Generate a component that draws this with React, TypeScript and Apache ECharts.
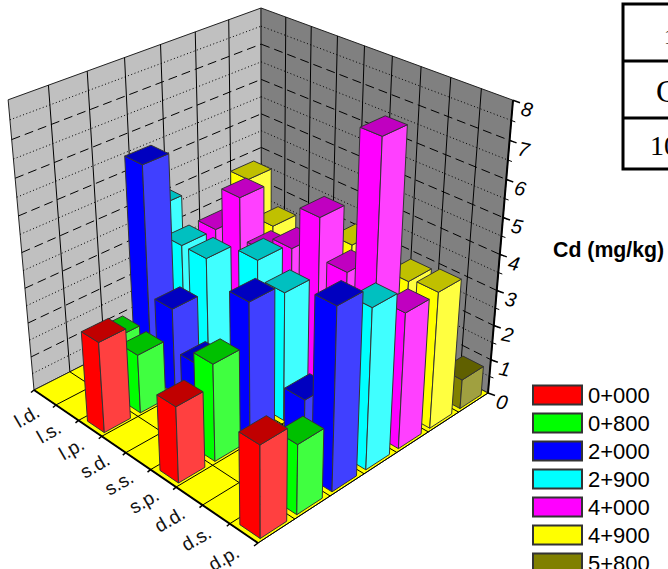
import React, { useEffect, useRef } from "react";
import * as echarts from "echarts";

const categories = ["l.d.", "l.s.", "l.p.", "s.d.", "s.s.", "s.p.", "d.d.", "d.s.", "d.p."];
const seriesNames = ["0+000", "0+800", "2+000", "2+900", "4+000", "4+900", "5+800"];
const zTicks = [0, 1, 2, 3, 4, 5, 6, 7, 8];
const v000: (number | null)[] = [null, null, 2.6, null, null, 2.15, null, null, 2.55];
const v800: (number | null)[] = [null, 1.75, 1.7, null, null, 2.75, null, null, 1.95];
const v2000: (number | null)[] = [null, 6.1, 2.5, 1.3, null, 3.9, null, 2.1, 5.0];
const v2900: (number | null)[] = [4.2, 3.45, 3.45, null, 4.15, 3.65, null, null, 4.45];
const v4000: (number | null)[] = [null, 3.45, 4.7, 3.55, 4.0, 5.2, 4.1, 7.9, 3.8];
const v4900: (number | null)[] = [null, 4.45, 3.45, null, null, 4.0, null, 3.75, 3.85];
const v5800: (number | null)[] = [null, null, null, null, null, null, null, null, 0.85];
const allValues = [v000, v800, v2000, v2900, v4000, v4900, v5800];
const baseColors = ["#ff0000", "#00ff00", "#0000ff", "#00ffff", "#ff00ff", "#ffff00", "#808000"];
const topColors = ["#c00000", "#00c000", "#0000c0", "#00c0c0", "#c000c0", "#c0c000", "#606000"];
const sideColors = ["#ff4040", "#40ff40", "#4040ff", "#40ffff", "#ff40ff", "#ffff40", "#a0a040"];
const tableRows = [
  { text: "1", size: 22, y: 36, x: 664 },
  { text: "C", size: 32, y: 91, x: 656 },
  { text: "10", size: 28, y: 145, x: 650 },
];

// projection: floor corners + vanishing point of the vertical direction
const L = [34, 390], F = [258, 543], R = [488, 393], B = [261.5, 274.5];
const Vz = [266, 2992];
const TOP_Y = 8;
const nU = categories.length, nV = seriesNames.length, zMax = 8;
const BAR_U0 = 0.2, BAR_U1 = 0.92, BAR_V0 = 0.12, BAR_V1 = 0.84;

const dx1 = F[0] - R[0], dx2 = B[0] - R[0], sx = L[0] - F[0] + R[0] - B[0];
const dy1 = F[1] - R[1], dy2 = B[1] - R[1], sy = L[1] - F[1] + R[1] - B[1];
const den = dx1 * dy2 - dx2 * dy1;
const hg = (sx * dy2 - dx2 * sy) / den, hh = (dx1 * sy - sx * dy1) / den;
const ha = F[0] - L[0] + hg * F[0], hb = B[0] - L[0] + hh * B[0], hc = L[0];
const hd = F[1] - L[1] + hg * F[1], he = B[1] - L[1] + hh * B[1], hf = L[1];
const wB = hh + 1;
const k = (TOP_Y * wB - B[1] * wB) / (zMax * (Vz[1] - TOP_Y));

function project(u: number, v: number, z: number): number[] {
  const s = u / nU, t = v / nV;
  const w = hg * s + hh * t + 1 + z * k;
  return [
    (ha * s + hb * t + hc + z * k * Vz[0]) / w,
    (hd * s + he * t + hf + z * k * Vz[1]) / w,
  ];
}

const line = (a: number[], b: number[], style: any) => ({
  type: "line",
  shape: { x1: a[0], y1: a[1], x2: b[0], y2: b[1] },
  style: { stroke: "#000", lineWidth: 1, ...style },
});
const poly = (points: number[][], fill: string, stroke = "#333", lineWidth = 1) => ({
  type: "polygon",
  shape: { points },
  style: { fill, stroke, lineWidth },
});

function renderFrame() {
  const children: any[] = [];
  children.push(poly([project(0, 0, 0), project(0, nV, 0), project(0, nV, zMax), project(0, 0, zMax)], "#c0c0c0", "#222", 1));
  children.push(poly([project(0, nV, 0), project(nU, nV, 0), project(nU, nV, zMax), project(0, nV, zMax)], "#808080", "#222", 1));
  children.push(poly([project(0, 0, 0), project(nU, 0, 0), project(nU, nV, 0), project(0, nV, 0)], "#ffff00", "#222", 1));
  for (let i = 1; i < nV; i++) {
    children.push(line(project(0, i, 0), project(0, i, zMax), {}));
    children.push(line(project(0, i, 0), project(nU, i, 0), {}));
  }
  for (let i = 1; i < nU; i++) {
    children.push(line(project(i, nV, 0), project(i, nV, zMax), {}));
    children.push(line(project(i, 0, 0), project(i, nV, 0), {}));
  }
  for (let z = 0.5; z < zMax; z += 0.5) {
    const dash = Number.isInteger(z) ? [9, 5] : [1, 2.5];
    children.push(line(project(0, 0, z), project(0, nV, z), { lineDash: dash }));
    children.push(line(project(0, nV, z), project(nU, nV, z), { lineDash: dash }));
    const p = project(nU, nV, z);
    children.push(line(p, [p[0] + 4, p[1] + 1.5], {}));
  }
  children.push(line(project(0, 0, 0), project(nU, 0, 0), { lineWidth: 2 }));
  children.push(line(project(nU, 0, 0), project(nU, nV, 0), { lineWidth: 1 }));
  children.push(line(project(nU, nV, 0), project(nU, nV, zMax), { lineWidth: 2 }));
  zTicks.forEach((z) => {
    const p = project(nU, nV, z);
    children.push(line(p, [p[0] + 7, p[1] + 2.5], { lineWidth: 1.5 }));
    children.push({
      type: "text",
      x: p[0] + 14,
      y: p[1] + 9,
      rotation: (-12 * Math.PI) / 180,
      style: { text: String(z), font: "italic 20px 'Liberation Sans'", fill: "#000", align: "center", verticalAlign: "middle" },
    });
  });
  categories.forEach((c, i) => {
    const t = project(i, 0, 0);
    children.push(line(t, [t[0] - 3, t[1] + 2.5], { lineWidth: 1.5 }));
    const m = project(i + 0.5, 0, 0);
    children.push({
      type: "text",
      x: m[0] - 18 - i * 0.25,
      y: m[1] + 19 + i * 0.75,
      rotation: (30 * Math.PI) / 180,
      style: { text: c, fontFamily: "Liberation Sans", fontSize: 19, fill: "#111", align: "center", verticalAlign: "middle" },
    });
  });
  const e = project(nU, 0, 0);
  children.push(line(e, [e[0] - 4, e[1] + 3], { lineWidth: 1.5 }));
  return { type: "group", children };
}

function makeBar(seriesIndex: number) {
  return (_params: any, api: any) => {
    const cat = api.value(0) as number;
    const val = api.value(1) as number;
    const u0 = cat + BAR_U0, u1 = cat + BAR_U1;
    const v0 = seriesIndex + BAR_V0, v1 = seriesIndex + BAR_V1;
    const corner = (u: number, v: number, z: number) => project(u, v, z);
    return {
      type: "group",
      children: [
        poly([corner(u0, v0, 0), corner(u1, v0, 0), corner(u1, v0, val), corner(u0, v0, val)], baseColors[seriesIndex]),
        poly([corner(u1, v0, 0), corner(u1, v1, 0), corner(u1, v1, val), corner(u1, v0, val)], sideColors[seriesIndex]),
        poly([corner(u0, v0, val), corner(u1, v0, val), corner(u1, v1, val), corner(u0, v1, val)], topColors[seriesIndex]),
      ],
    };
  };
}

export default function App() {
  const ref = useRef<HTMLDivElement>(null);
  useEffect(() => {
    const chart = echarts.init(ref.current!, undefined, { renderer: "svg" });
    const barSeries = seriesNames
      .map((name, s) => ({
        type: "custom",
        name,
        coordinateSystem: "none",
        silent: true,
        itemStyle: { color: baseColors[s], borderColor: "#333", borderWidth: 1 },
        renderItem: makeBar(s),
        data: allValues[s]
          .map((v, i) => (v === null ? null : [i, v]))
          .filter((d) => d !== null),
      }))
      .reverse();
    chart.setOption({
      animation: false,
      backgroundColor: "#fff",
      legend: {
        data: seriesNames,
        orient: "vertical",
        left: 532,
        top: 384,
        padding: 0,
        itemWidth: 49,
        itemHeight: 19,
        itemGap: 6,
        icon: "rect",
        selectedMode: false,
        textStyle: { fontFamily: "Liberation Sans", fontSize: 22, lineHeight: 19, color: "#000", padding: [0, 0, 0, 1] },
      },
      graphic: [
        { type: "rect", shape: { x: 623, y: 4, width: 80, height: 165 }, style: { fill: "none", stroke: "#000", lineWidth: 3 } },
        { type: "line", shape: { x1: 623, y1: 61, x2: 700, y2: 61 }, style: { stroke: "#000", lineWidth: 3 } },
        { type: "line", shape: { x1: 623, y1: 118, x2: 700, y2: 118 }, style: { stroke: "#000", lineWidth: 3 } },
        ...tableRows.map((r) => ({
          type: "text",
          x: r.x,
          y: r.y,
          style: { text: r.text, fontFamily: "Liberation Serif", fontSize: r.size, fill: "#000", align: "left", verticalAlign: "middle" },
        })),
        { type: "text", x: 553, y: 250, style: { text: "Cd (mg/kg)", fontFamily: "Liberation Sans", fontWeight: "bold", fontSize: 21.3, fill: "#000", align: "left", verticalAlign: "middle" } },
      ],
      series: [
        { type: "custom", name: "frame", coordinateSystem: "none", silent: true, renderItem: renderFrame, data: [[0]] },
        ...barSeries,
      ],
    });
    return () => chart.dispose();
  }, []);
  return (
    <div style={{ position: "fixed", left: 0, top: 0, width: 668, height: 569, overflow: "hidden", background: "#fff" }}>
      <div ref={ref} style={{ width: 668, height: 600 }} />
    </div>
  );
}
